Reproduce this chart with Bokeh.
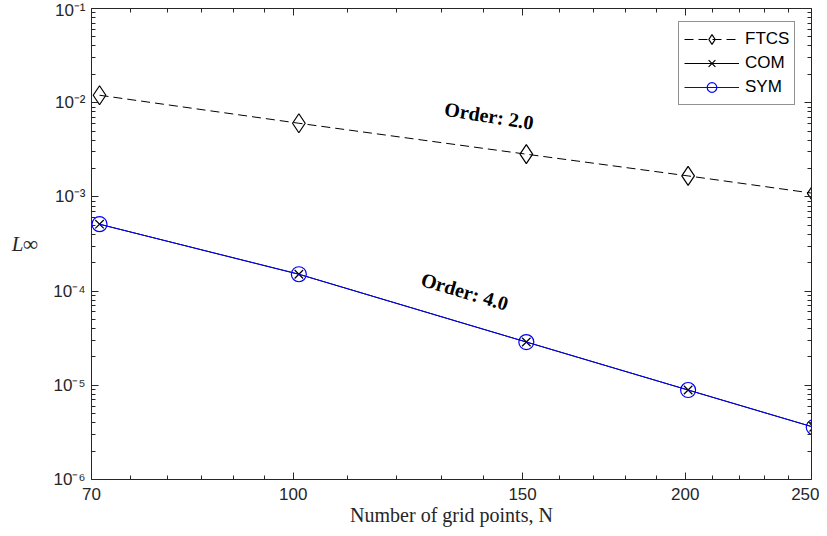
from bokeh.plotting import figure
from bokeh.models import Range1d, LogAxis, FixedTicker, Label, Legend, LegendItem, BasicTickFormatter
from bokeh.embed import file_html
from bokeh.resources import INLINE

# ---- data ----
N = [71, 101, 151, 201, 251]
ftcs = [1.20e-2, 6.05e-3, 2.84e-3, 1.67e-3, 1.09e-3]
com = [5.13e-4, 1.51e-4, 2.88e-5, 8.91e-6, 3.59e-6]
sym = [5.13e-4, 1.51e-4, 2.88e-5, 8.91e-6, 3.59e-6]

x_ticks = [70, 100, 150, 200, 250]
x_tick_labels = ["70", "100", "150", "200", "250"]
x_minor = [75, 80, 85, 90, 95, 110, 120, 130, 140, 160, 170, 180, 190,
           210, 220, 230, 240]
y_ticks = [1e-6, 1e-5, 1e-4, 1e-3, 1e-2, 1e-1]
y_tick_labels = ["10\u207b\u2076", "10\u207b\u2075", "10\u207b\u2074",
                 "10\u207b\u00b3", "10\u207b\u00b2", "10\u207b\u00b9"]
y_minor = [2e-6, 3e-6, 4e-6, 5e-6, 6e-6, 7e-6, 8e-6, 9e-6,
           2e-5, 3e-5, 4e-5, 5e-5, 6e-5, 7e-5, 8e-5, 9e-5,
           2e-4, 3e-4, 4e-4, 5e-4, 6e-4, 7e-4, 8e-4, 9e-4,
           2e-3, 3e-3, 4e-3, 5e-3, 6e-3, 7e-3, 8e-3, 9e-3,
           2e-2, 3e-2, 4e-2, 5e-2, 6e-2, 7e-2, 8e-2, 9e-2]

AX = "#262626"
SANS = "Liberation Sans"
SERIF = "Liberation Serif"

p = figure(width=819, height=528, x_axis_type="log", y_axis_type="log",
           x_range=Range1d(70, 250), y_range=Range1d(1e-6, 1e-1),
           output_backend="svg", toolbar_location=None,
           min_border_left=91, min_border_right=8, min_border_top=8,
           min_border_bottom=46, background_fill_color="white",
           border_fill_color="white")
p.outline_line_color = None
p.grid.visible = False

xt = FixedTicker(ticks=x_ticks, minor_ticks=x_minor)
yt = FixedTicker(ticks=y_ticks, minor_ticks=y_minor)


def style(ax):
    ax.axis_line_color = AX
    ax.axis_line_width = 1
    ax.major_tick_line_color = AX
    ax.minor_tick_line_color = AX
    ax.major_tick_in = 7
    ax.major_tick_out = 0
    ax.minor_tick_in = 4
    ax.minor_tick_out = 0
    ax.major_label_text_color = AX
    ax.major_label_text_font = SANS
    ax.major_label_text_font_size = "17px"


xa = p.xaxis[0]
xa.ticker = xt
xa.formatter = BasicTickFormatter()
xa.major_label_overrides = dict(zip(x_ticks, x_tick_labels))
style(xa)
xa.major_label_standoff = 8
xa.axis_label = "Number of grid points, N"
xa.axis_label_text_font = SERIF
xa.axis_label_text_font_style = "normal"
xa.axis_label_text_font_size = "20px"
xa.axis_label_text_color = AX
xa.axis_label_standoff = 1

ya = p.yaxis[0]
ya.ticker = yt
ya.formatter = BasicTickFormatter()
ya.major_label_overrides = dict(zip(y_ticks, y_tick_labels))
style(ya)
ya.major_label_standoff = 6
ya.axis_label = "L\u221e"
ya.axis_label_orientation = "horizontal"
ya.axis_label_text_font = SERIF
ya.axis_label_text_font_style = "italic"
ya.axis_label_text_font_size = "21px"
ya.axis_label_text_color = AX
ya.axis_label_standoff = 12

top = LogAxis(ticker=xt)
style(top)
top.major_label_text_font_size = "1px"
top.major_label_text_alpha = 0
top.major_label_standoff = 0
p.add_layout(top, "above")

right = LogAxis(ticker=yt)
style(right)
right.major_label_text_font_size = "1px"
right.major_label_text_alpha = 0
right.major_label_standoff = 0
p.add_layout(right, "right")

# ---- series ----
l1 = p.line(N, ftcs, line_color="black", line_width=1, line_dash="9 5")
s1 = p.scatter(N, ftcs, marker="diamond", size=19, line_color="black",
               fill_alpha=0, line_width=1.2)
l2 = p.line(N, com, line_color="black", line_width=1)
s2 = p.scatter(N, com, marker="x", size=12, line_color="black", line_width=1.2)
l3 = p.line(N, sym, line_color="#0000ff", line_width=1)
s3 = p.scatter(N, sym, marker="circle", size=15, line_color="#0000ff",
               fill_alpha=0, line_width=1.2)

legend = Legend(items=[LegendItem(label="FTCS", renderers=[l1, s1]),
                       LegendItem(label="COM", renderers=[l2, s2]),
                       LegendItem(label="SYM", renderers=[l3, s3])],
                location=(587, 374), padding=5, spacing=0,
                glyph_width=55, glyph_height=24, label_height=20,
                label_standoff=6, label_text_font=SANS,
                label_text_font_size="17px", label_text_color="black",
                border_line_color=AX, border_line_width=1,
                background_fill_color="white", background_fill_alpha=1)
p.add_layout(legend)

# ---- annotations ----
p.add_layout(Label(x=142, y=7.2e-3, text="Order:  2.0", angle=-0.16,
                   text_align="center", text_baseline="middle",
                   text_font=SERIF, text_font_style="bold",
                   text_font_size="20px", text_color="black"))
p.add_layout(Label(x=136, y=9.75e-5, text="Order:  4.0", angle=-0.287,
                   text_align="center", text_baseline="middle",
                   text_font=SERIF, text_font_style="bold",
                   text_font_size="20px", text_color="black"))

open("out.html", "w").write(file_html(p, INLINE))
